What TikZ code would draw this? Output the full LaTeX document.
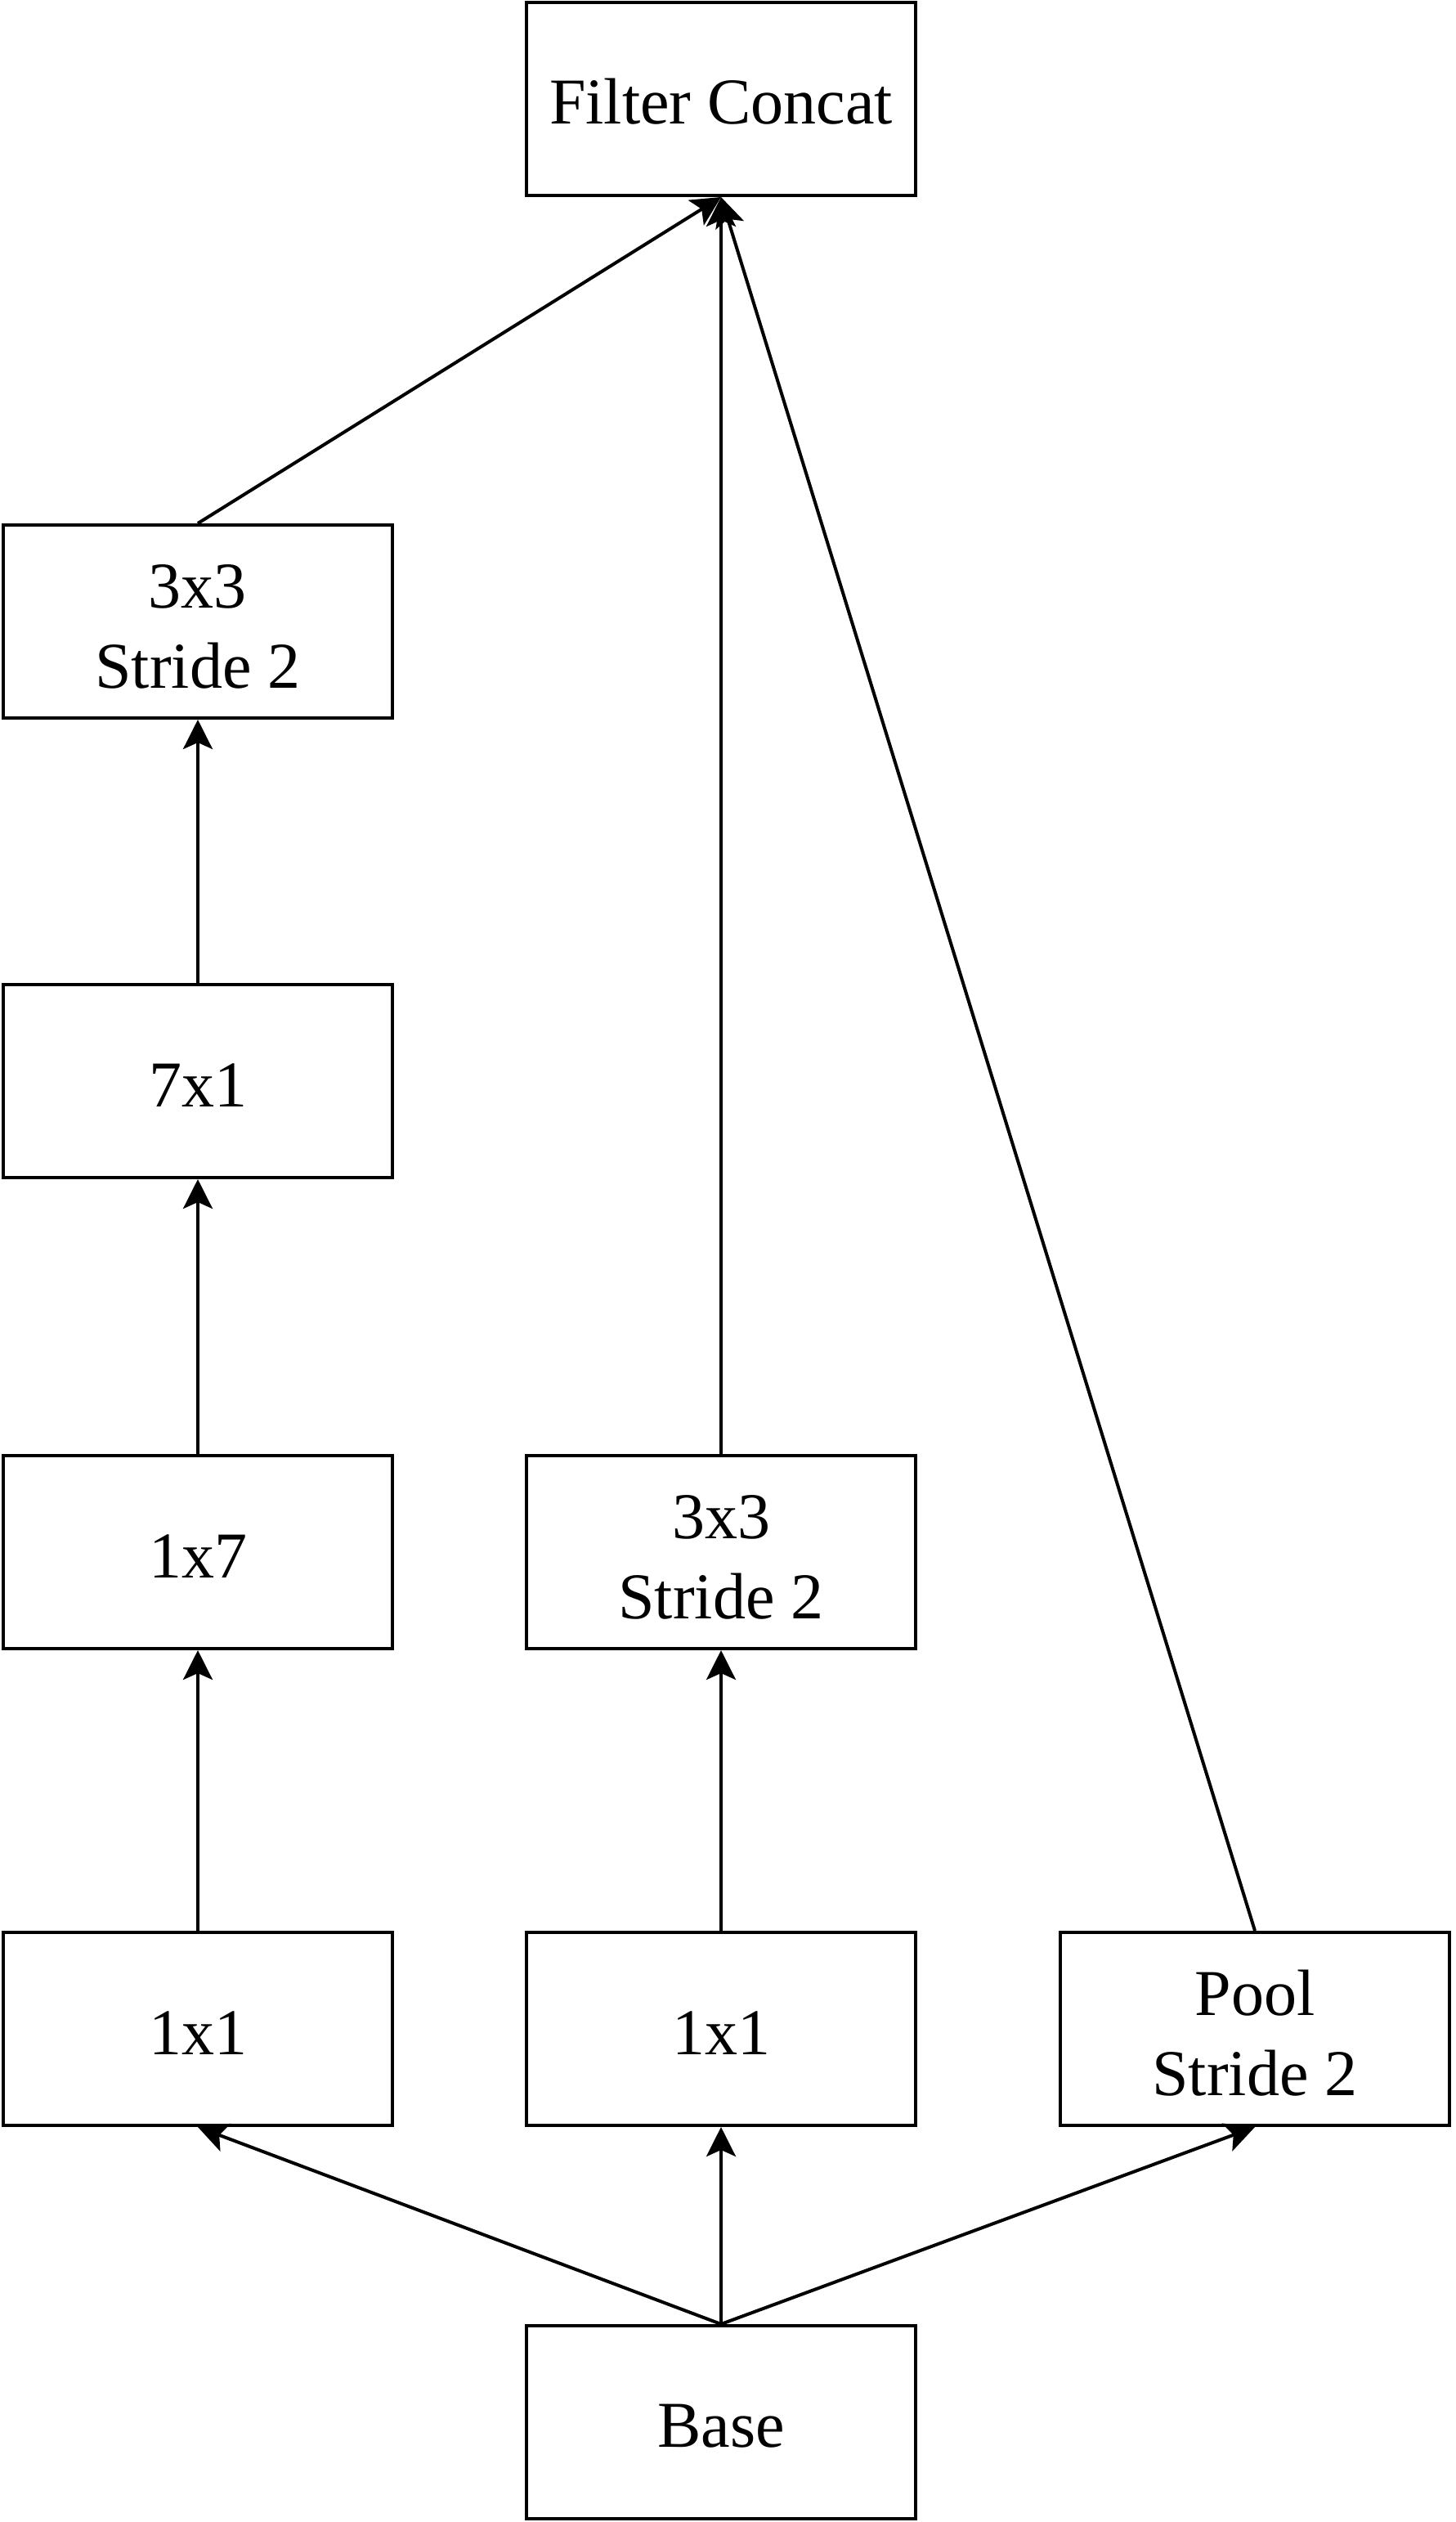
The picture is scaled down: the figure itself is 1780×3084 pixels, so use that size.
\documentclass[tikz,border=0pt]{standalone}
\usepackage{fontspec}
\setmainfont{Liberation Serif}
\usetikzlibrary{arrows.meta}
\tikzset{
  block/.style={draw, line width=1pt, minimum width=119pt, minimum height=59pt,
    inner sep=0pt, align=center, text height=15.5pt,
    font=\fontsize{20pt}{24.5pt}\selectfont},
  twoline/.style={block, text height=41pt},
}
\begin{document}
\begin{tikzpicture}[x=0.25pt,y=-0.25pt]
      \useasboundingbox (0,0) rectangle (1780,3084);
      \draw
        (882,121) node[block] (concat){Filter Concat}
        (242,760) node[twoline] (l3x3){3x3\\Stride 2}
        (242,1322) node[block] (l7x1){7x1}
        (242,1898) node[block] (l1x7){1x7}
        (882,1898) node[twoline] (m3x3){3x3\\Stride 2}
        (242,2481) node[block] (l1x1){1x1}
        (882,2481) node[block] (m1x1){1x1}
        (1535,2481) node[twoline] (pool){Pool\\Stride 2}
        (882,2962) node[block] (base){Base};
      \begin{scope}[-{Stealth[length=9pt,width=9pt,inset=2pt]}, line width=1pt]
        \draw (base.north) to (l1x1.south);
        \draw (base.north) to (m1x1.south);
        \draw (base.north) to (pool.south);
        \draw (l1x1) to (l1x7);
        \draw (l1x7) to (l7x1);
        \draw (l7x1) to (l3x3);
        \draw (m1x1) to (m3x3);
        \draw (l3x3.north) to (concat.south);
        \draw (m3x3.north) to (concat.south);
        \draw (pool.north) to (concat.south);
      \end{scope}
    \end{tikzpicture}
\end{document}
